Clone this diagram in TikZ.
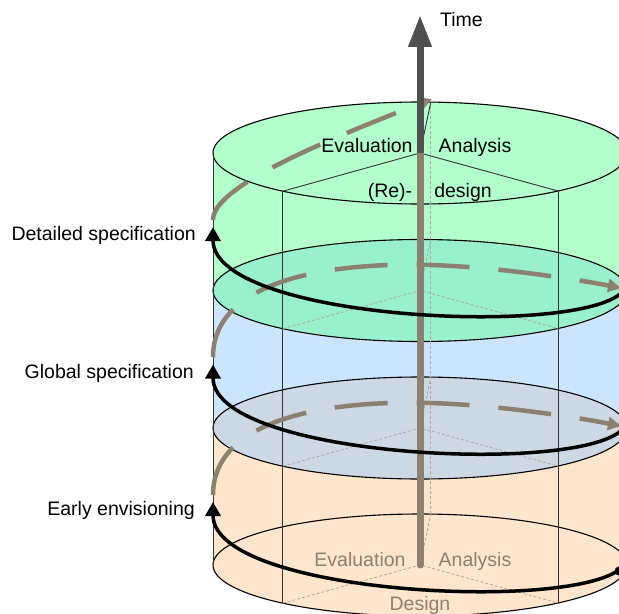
\documentclass[tikz,border=0pt]{standalone}
\usepackage{fontspec}
\setmainfont{Liberation Sans}
\usetikzlibrary{arrows.meta}

\definecolor{topgreen}{RGB}{178,255,204}
\definecolor{midgreen}{RGB}{153,240,204}
\definecolor{midblue}{RGB}{204,229,255}
\definecolor{greyblue}{RGB}{204,217,229}
\definecolor{peach}{RGB}{255,229,204}
\definecolor{taupe}{RGB}{140,128,112}
\definecolor{axisgrey}{RGB}{80,80,80}

\begin{document}
\begin{tikzpicture}[x=1bp, y=-1bp,
  every node/.style={font=\fontsize{19.5bp}{23bp}\selectfont, inner sep=0pt},
  rim/.style={draw=black, line width=1.1bp},
  edge/.style={draw=black!80, line width=0.9bp},
  hidden/.style={draw=taupe!70, line width=0.8bp, dash pattern=on 3bp off 2bp},
  front/.style={line width=3.5bp, -{Triangle[length=14bp, width=15bp]}},
  back/.style={taupe, line width=4.5bp, dash pattern=on 53bp off 29bp,
               -{Triangle[length=13bp, width=13bp]}},
  phase/.style={text=taupe}]
\useasboundingbox (0,0) rectangle (619,614);
\clip (0,0) rectangle (619,614);

% level centres, bottom to top
\coordinate (c0) at (420,565);
\coordinate (c1) at (420,428);
\coordinate (c2) at (420,290.5);
\coordinate (c3) at (420,153);
\foreach \i in {0,1,2,3} {
  \path (c\i) +(131.5:207 and 51) coordinate (fl\i)
              +(48.2:207 and 51) coordinate (fr\i)
              +(-87:207 and 51) coordinate (bk\i);
}

% bands and discs
\fill[peach] (213,428) rectangle (627,565);
\fill[peach] (c0) ellipse [x radius=207, y radius=51];
\draw[rim] (c0) ellipse [x radius=207, y radius=51];
\fill[midblue] (213,290.5) rectangle (627,428);
\fill[topgreen] (213,153) rectangle (627,290.5);
\filldraw[rim, fill=greyblue] (c1) ellipse [x radius=207, y radius=51];
\filldraw[rim, fill=midgreen] (c2) ellipse [x radius=207, y radius=51];
\filldraw[rim, fill=topgreen] (c3) ellipse [x radius=207, y radius=51];

% prism inside the cylinder
\foreach \i in {0,1,2} \draw[hidden] (fl\i) -- (c\i) -- (fr\i) (c\i) -- (bk\i);
\draw[hidden] (bk0) -- (bk3);
\draw[edge] (213,153) -- (213,565);
\draw[edge] (fl3) -- (fl0);
\draw[edge] (fr3) -- (fr0);
\draw[edge] (fl3) -- (c3) -- (fr3) (c3) -- (bk3);

% spiral, back halves
\foreach \s in {0,138}
  \draw[back, shift={(0,\s)}] (213,357) .. controls (213,280) and (330,262) .. (430,265)
    .. controls (500,267) and (580,280) .. (621,288);
\draw[back] (213,220) .. controls (213,190) and (300,150) .. (432,99);

\draw[taupe, line width=7bp, line cap=round] (c0) -- (c3);

% spiral, front halves
\foreach \s in {0,137.5,275}
  \draw[front, shift={(0,\s)}] (627,282) .. controls (627,340) and (213,325) .. (213,227);
\fill (619,571) circle (4.5);

% time axis
\coordinate (tip) at (420,15);
\draw[axisgrey, line width=7bp, -{Triangle[length=32bp, width=22bp]}] (c3) -- (tip);
\node[anchor=base west] (time) at (440,27) {Time};

% labels
\node[anchor=base east] (detail) at (196,240) {Detailed specification};
\node[anchor=base east] (global) at (194,378) {Global specification};
\node[anchor=base east] (early) at (195,515) {Early envisioning};
\node[anchor=base] (evaltop) at (367,153) {Evaluation};
\node[anchor=base] (anatop) at (475,153) {Analysis};
\node[anchor=base] (redes) at (390,197) {(Re)-};
\node[anchor=base] (destop) at (463,197) {design};
\node[phase, anchor=base] (evalbot) at (360,566) {Evaluation};
\node[phase, anchor=base] (anabot) at (475,566) {Analysis};
\node[phase, anchor=base] (desbot) at (420,610) {Design};
\end{tikzpicture}
\end{document}
